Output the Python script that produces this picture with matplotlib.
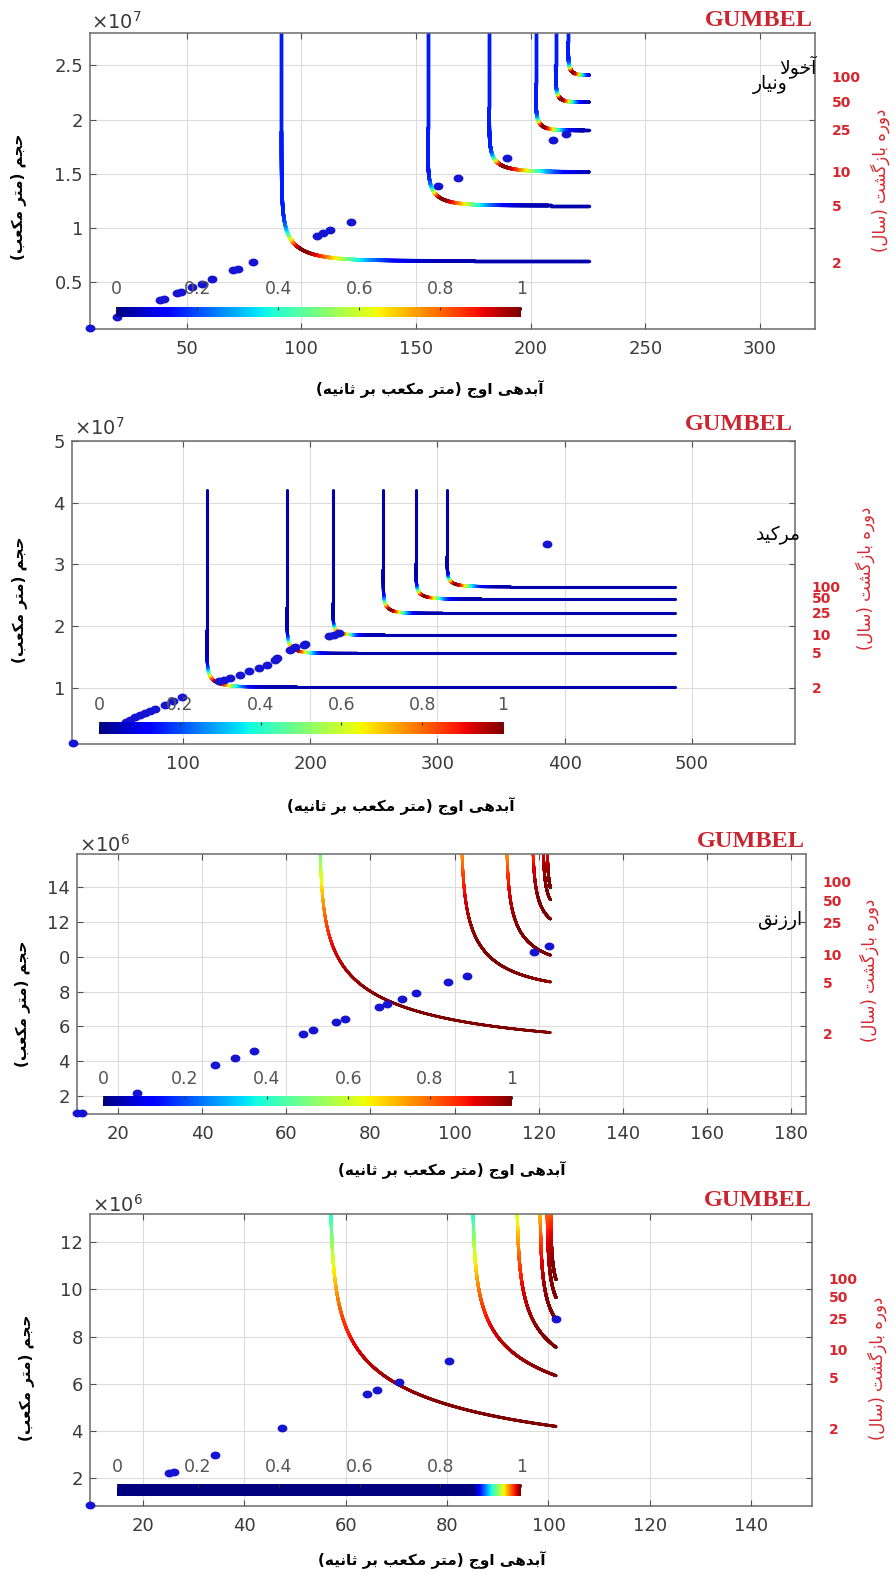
import numpy as np
import matplotlib
matplotlib.use("Agg")
import matplotlib.pyplot as plt
from matplotlib.collections import LineCollection
from matplotlib.colors import ListedColormap
from matplotlib.path import Path
import matplotlib.transforms as mtransforms

# ------------------------------------------------------------------ data
return_periods = ["2", "5", "10", "25", "50", "100"]
colour_ticks = [0, 0.2, 0.4, 0.6, 0.8, 1]

# Station 1 (volume in 1e7 m3)
q_obs_1 = [7.8, 19.6, 38.4, 39.9, 45.7, 47.6, 52.2, 56.5, 60.9, 70.3, 72.5, 79.0,
           107.0, 109.4, 112.6, 121.7, 159.7, 168.4, 189.6, 209.6, 215.4]
v_obs_1 = [0.076, 0.175, 0.337, 0.346, 0.398, 0.407, 0.454, 0.485, 0.528, 0.609, 0.624, 0.686,
           0.927, 0.949, 0.977, 1.054, 1.385, 1.459, 1.641, 1.815, 1.867]
q_design_1 = [91.3, 155.1, 181.9, 202.2, 210.9, 216.3]
v_design_1 = [0.695, 1.206, 1.517, 1.90, 2.16, 2.41]
q_spread_1 = [12.0, 8.0, 8.0, 3.5, 2.5, 2.0]
v_spread_1 = [0.16, 0.10, 0.085, 0.07, 0.06, 0.06]
rp_level_1 = [0.67, 1.19, 1.51, 1.89, 2.15, 2.38]

# Station 2 (volume in 1e7 m3)
q_obs_2 = [13.4, 55, 58, 62, 66, 70, 74, 78, 86, 92, 99, 128.0, 132.0, 137.2, 145.0, 151.6,
           159.4, 166.0, 172.5, 173.8, 184.3, 188.2, 194.8, 196.1, 214.5, 218.5, 222.4, 386.4]
v_obs_2 = [0.108, 0.45, 0.48, 0.52, 0.56, 0.59, 0.62, 0.65, 0.72, 0.78, 0.85, 1.102, 1.13,
           1.157, 1.211, 1.265, 1.319, 1.373, 1.454, 1.481, 1.616, 1.66, 1.697, 1.713, 1.832,
           1.859, 1.887, 3.335]
q_design_2 = [118.8, 181.8, 218.0, 257.4, 283.2, 307.7]
v_design_2 = [1.011, 1.556, 1.854, 2.205, 2.438, 2.638]
q_spread_2 = [10.0, 8.0, 6.0, 7.0, 8.0, 8.0]
v_spread_2 = [0.12, 0.10, 0.07, 0.10, 0.08, 0.07]
rp_level_2 = [0.98, 1.54, 1.84, 2.19, 2.43, 2.62]

# Station 3 (volume in 1e6 m3)
q_obs_3 = [10.3, 11.4, 24.4, 43.1, 47.9, 52.4, 63.9, 66.3, 71.9, 73.9, 82.0, 84.0, 87.5,
           90.9, 98.5, 103.0, 118.8, 122.4]
v_obs_3 = [1.0, 1.05, 2.19, 3.78, 4.2, 4.58, 5.57, 5.78, 6.24, 6.43, 7.12, 7.29, 7.6, 7.89,
           8.53, 8.92, 10.29, 10.6]
q_design_3 = [67.8, 101.5, 112.3, 118.5, 121.0, 122.0]
v_design_3 = [4.8, 8.0, 9.38, 11.4, 12.62, 13.05]
q_spread_3 = [50.0, 15.0, 10.0, 5.0, 2.0, 1.5]
v_spread_3 = [2.1, 2.0, 1.65, 1.4, 1.25, 1.04]
rp_level_3 = [5.5, 8.42, 10.04, 11.9, 13.13, 14.22]

# Station 4 (volume in 1e6 m3)
q_obs_4 = [9.56, 25.1, 26.2, 34.3, 47.4, 64.2, 66.2, 70.5, 80.4, 101.5]
v_obs_4 = [0.857, 2.2, 2.27, 2.97, 4.1, 5.55, 5.72, 6.08, 6.95, 8.76]
q_design_4 = [56.9, 85.0, 93.7, 98.3, 99.7, 100.4]
v_design_4 = [2.7, 4.2, 5.85, 7.57, 8.7, 9.56]
q_spread_4 = [80.0, 60.0, 20.0, 6.0, 3.0, 2.0]
v_spread_4 = [1.75, 1.5, 1.5, 1.3, 1.2, 1.0]
rp_level_4 = [4.03, 6.18, 7.39, 8.72, 9.65, 10.42]

x_label = "آبدهی اوج (متر مکعب بر ثانیه)"
y_label = "حجم (متر مکعب)"
r_label = "دوره بازگشت (سال)"

# ------------------------------------------------------------------ Persian shaping
_FORMS = {
    "ا": ("\uFE8D", "\uFE8E", None, None), "آ": ("\uFE81", "\uFE82", None, None),
    "ب": ("\uFE8F", "\uFE90", "\uFE91", "\uFE92"), "ت": ("\uFE95", "\uFE96", "\uFE97", "\uFE98"),
    "ث": ("\uFE99", "\uFE9A", "\uFE9B", "\uFE9C"), "ج": ("\uFE9D", "\uFE9E", "\uFE9F", "\uFEA0"),
    "ح": ("\uFEA1", "\uFEA2", "\uFEA3", "\uFEA4"), "خ": ("\uFEA5", "\uFEA6", "\uFEA7", "\uFEA8"),
    "د": ("\uFEA9", "\uFEAA", None, None), "ر": ("\uFEAD", "\uFEAE", None, None),
    "ز": ("\uFEAF", "\uFEB0", None, None), "س": ("\uFEB1", "\uFEB2", "\uFEB3", "\uFEB4"),
    "ش": ("\uFEB5", "\uFEB6", "\uFEB7", "\uFEB8"), "ع": ("\uFEC9", "\uFECA", "\uFECB", "\uFECC"),
    "ق": ("\uFED5", "\uFED6", "\uFED7", "\uFED8"), "ک": ("\uFB8E", "\uFB8F", "\uFB90", "\uFB91"),
    "گ": ("\uFB92", "\uFB93", "\uFB94", "\uFB95"), "ل": ("\uFEDD", "\uFEDE", "\uFEDF", "\uFEE0"),
    "م": ("\uFEE1", "\uFEE2", "\uFEE3", "\uFEE4"), "ن": ("\uFEE5", "\uFEE6", "\uFEE7", "\uFEE8"),
    "ه": ("\uFEE9", "\uFEEA", "\uFEEB", "\uFEEC"), "و": ("\uFEED", "\uFEEE", None, None),
    "ی": ("\uFBFC", "\uFBFD", "\uFBFE", "\uFBFF"),
}
_LAM_ALEF = {"ا": ("\uFEFB", "\uFEFC"), "آ": ("\uFEF5", "\uFEF6")}
_MIRROR = {"(": ")", ")": "("}


def fa(text):
    chars = list(text)
    out = []
    i = 0
    while i < len(chars):
        ch = chars[i]
        if ch not in _FORMS:
            out.append(ch)
            i += 1
            continue
        prev = chars[i - 1] if i > 0 else None
        joins_prev = prev in _FORMS and _FORMS[prev][2] is not None
        if ch == "ل" and i + 1 < len(chars) and chars[i + 1] in _LAM_ALEF:
            lig = _LAM_ALEF[chars[i + 1]]
            out.append(lig[1] if joins_prev else lig[0])
            i += 2
            continue
        nxt = chars[i + 1] if i + 1 < len(chars) else None
        joins_next = _FORMS[ch][2] is not None and nxt in _FORMS
        iso, fin, ini, med = _FORMS[ch]
        if joins_prev and joins_next:
            out.append(med)
        elif joins_prev:
            out.append(fin)
        elif joins_next:
            out.append(ini)
        else:
            out.append(iso)
        i += 1
    return "".join(_MIRROR.get(c, c) for c in reversed(out))


# ------------------------------------------------------------------ figure
W, H = 895, 1573
plt.rcParams["mathtext.fontset"] = "dejavusans"
fig = plt.figure(figsize=(W / 100, H / 100), dpi=100, facecolor="white")


def rect(l, t, r, b):
    return [l / W, 1 - b / H, (r - l) / W, (b - t) / H]


def at(x, y):
    return x / W, 1 - y / H


jet = plt.get_cmap("jet")
xg = np.linspace(0, 1, 256)
jet_late = ListedColormap(jet(np.clip((xg - 0.885) / 0.115, 0, 1)))

theta = np.linspace(0, 2 * np.pi, 41)
dot = Path(np.column_stack([1.25 * np.cos(theta), np.sin(theta)]), closed=True)

RED = "#d8262e"
TICK = "#3a3a3a"
NUM_FONT = "DejaVu Sans"

panels = [
    dict(q=q_obs_1, v=v_obs_1, qd=q_design_1, vd=v_design_1, cq=q_spread_1, cv=v_spread_1,
         lev=rp_level_1, xlim=(7.8, 324), ylim=(0.065, 2.8), xt=[50, 100, 150, 200, 250, 300],
         yt=[0.5, 1, 1.5, 2, 2.5], ytl=["0.5", "1", "1.5", "2", "2.5"], qmax=225.4, vmax=3.0,
         colour=(1.35, 2.6, 0.15, 0.04, 2), lw=2.5, exp=7, cmap=jet,
         ax=(90, 33, 815, 329), cbar=(116.3, 306.7, 521.3, 317.3), xlab=(430, 389),
         ylab=(18, 197), rlab=(880, 180), gumbel=(813, 20), mult=(91, 22)),
    dict(q=q_obs_2, v=v_obs_2, qd=q_design_2, vd=v_design_2, cq=q_spread_2, cv=v_spread_2,
         lev=rp_level_2, xlim=(12.8, 581), ylim=(0.087, 5.0), xt=[100, 200, 300, 400, 500],
         yt=[1, 2, 3, 4, 5], ytl=["1", "2", "3", "4", "5"], qmax=486.5, vmax=4.2,
         colour=(2.1, 2.05, 0.04, 0.04, 2), lw=2.2, exp=7, cmap=jet,
         ax=(72, 441, 795, 744), cbar=(98.9, 722, 503, 733.7), xlab=(401, 806),
         ylab=(19, 600), rlab=(865, 578), gumbel=(793, 425), mult=(74, 428)),
    dict(q=q_obs_3, v=v_obs_3, qd=q_design_3, vd=v_design_3, cq=q_spread_3, cv=v_spread_3,
         lev=rp_level_3, xlim=(10.2, 183.6), ylim=(0.97, 15.9),
         xt=[20, 40, 60, 80, 100, 120, 140, 160, 180], yt=[2, 4, 6, 8, 10, 12, 14],
         ytl=["2", "4", "6", "8", "0", "12", "14"], qmax=122.8, vmax=16.5,
         colour=(5.97, 4.0, 0.0, 0.0, 3), lw=1.9, exp=6, cmap=jet,
         ax=(77, 854, 806, 1114), cbar=(103.3, 1096, 511.7, 1106), xlab=(452, 1170),
         ylab=(22, 1004), rlab=(869, 970), gumbel=(805, 842), mult=(79, 845)),
    dict(q=q_obs_4, v=v_obs_4, qd=q_design_4, vd=v_design_4, cq=q_spread_4, cv=v_spread_4,
         lev=rp_level_4, xlim=(9.55, 152), ylim=(0.81, 13.2),
         xt=[20, 40, 60, 80, 100, 120, 140], yt=[2, 4, 6, 8, 10, 12],
         ytl=["2", "4", "6", "8", "10", "12"], qmax=101.5, vmax=13.6,
         colour=(6.2, 4.0, 0.0, 0.0, 3), lw=2.1, exp=6, cmap=jet_late,
         ax=(90, 1214, 812, 1506), cbar=(117.3, 1484, 521.3, 1495.7), xlab=(432, 1560),
         ylab=(26, 1378), rlab=(877, 1368), gumbel=(812, 1200), mult=(92, 1205)),
]


def isoline(qd, vd, cq, cv, qmax, vmax, n=4000):
    """OR-type joint return-period isoline of a Gumbel-Hougaard copula in reduced variates."""
    a = (qmax - qd) / cq
    b = (vmax - vd) / cv
    s_min = -a - np.log1p(-np.exp(-a))
    s_max = b + np.log1p(-np.exp(-b))
    s = np.linspace(s_min, s_max, n)
    q = qd + cq * np.logaddexp(0, -s)
    v = vd + cv * np.logaddexp(0, s)
    return q, v, s


def weight(s, w_pos, w_neg, base_pos, base_neg, p):
    w = np.where(s >= 0, w_pos, w_neg)
    base = np.where(s >= 0, base_pos, base_neg)
    return base + (1 - base) * np.exp(-np.abs(s / w) ** p)


for P in panels:
    ax = fig.add_axes(rect(*P["ax"]))
    ax.set_xlim(*P["xlim"])
    ax.set_ylim(*P["ylim"])
    ax.set_xticks(P["xt"])
    ax.set_xticklabels([str(t) for t in P["xt"]])
    ax.set_yticks(P["yt"])
    ax.set_yticklabels(P["ytl"])
    ax.grid(True, color="#dcdcdc", lw=0.8)
    ax.set_axisbelow(True)
    ax.tick_params(direction="in", length=4, width=0.8, color="#505050", top=True, right=True,
                   labelsize=13, labelcolor=TICK)
    ax.tick_params(axis="x", pad=8)
    ax.tick_params(axis="y", pad=5)
    for lab in ax.get_xticklabels() + ax.get_yticklabels():
        lab.set_fontfamily(NUM_FONT)
    for sp in ax.spines.values():
        sp.set_color("#6a6a6a")
        sp.set_linewidth(1.1)

    for k in range(len(return_periods)):
        q, v, s = isoline(P["qd"][k], P["vd"][k], P["cq"][k], P["cv"][k], P["qmax"], P["vmax"])
        pts = np.column_stack([q, v])
        segs = np.stack([pts[:-1], pts[1:]], axis=1)
        c = weight(0.5 * (s[:-1] + s[1:]), *P["colour"])
        lc = LineCollection(segs, colors=jet(c), linewidths=P["lw"], capstyle="round", zorder=2)
        ax.add_collection(lc)

    ax.scatter(P["q"], P["v"], s=50, marker=dot, color="#1414d2", linewidths=0,
               zorder=4, clip_on=False)

    bt = mtransforms.blended_transform_factory(ax.transAxes, ax.transData)
    for lab, lev in zip(return_periods, P["lev"]):
        ax.text(1.023, lev, lab, transform=bt, ha="left", va="center", color=RED,
                fontsize=10, fontweight="bold", family="DejaVu Sans", clip_on=False)

    # colour bar drawn inside the plot area
    cax = fig.add_axes(rect(*P["cbar"]))
    cax.imshow(xg[None, :], aspect="auto", cmap=P["cmap"], extent=(0, 1, 0, 1))
    cax.set_xlim(0, 1)
    cax.set_ylim(0, 1)
    cax.set_yticks([])
    cax.xaxis.set_ticks_position("top")
    cax.set_xticks(colour_ticks)
    cax.set_xticklabels(["0", "0.2", "0.4", "0.6", "0.8", "1"])
    cax.tick_params(axis="x", direction="in", length=2.5, width=0.8, color="#303030",
                    labelsize=12.5, labelcolor="#555555", pad=6)
    for lab in cax.get_xticklabels():
        lab.set_fontfamily(NUM_FONT)
    for sp in cax.spines.values():
        sp.set_visible(False)

    fig.text(*at(*P["xlab"]), fa(x_label), ha="center", va="center", fontsize=11,
             fontweight="bold", family="DejaVu Sans", color="black")
    fig.text(*at(*P["ylab"]), fa(y_label), ha="center", va="center", rotation=90, fontsize=11,
             fontweight="bold", family="DejaVu Sans", color="black")
    fig.text(*at(*P["rlab"]), fa(r_label), ha="center", va="center", rotation=90, fontsize=12,
             family="DejaVu Sans", color=RED)
    fig.text(*at(*P["gumbel"]), "GUMBEL", ha="right", va="center", fontsize=17.5,
             fontweight="bold", family="Liberation Serif", color="#cc2530")
    fig.text(*at(*P["mult"]), r"$\times10^{%d}$" % P["exp"], ha="left", va="center",
             fontsize=14, color=TICK)

# station names
fig.text(*at(817, 67), fa("آخولا"), ha="right", va="center", fontsize=13.5,
         family="DejaVu Sans", color="black")
fig.text(*at(770, 84), fa("ونیار"), ha="center", va="center", fontsize=13.5,
         family="DejaVu Sans", color="black")
fig.text(*at(778, 535), fa("مرکید"), ha="center", va="center", fontsize=13.5,
         family="DejaVu Sans", color="black")
fig.text(*at(780, 921), fa("ارزنق"), ha="center", va="center", fontsize=13.5,
         family="DejaVu Sans", color="black")

fig.savefig("out.png", dpi=100, facecolor="white")
